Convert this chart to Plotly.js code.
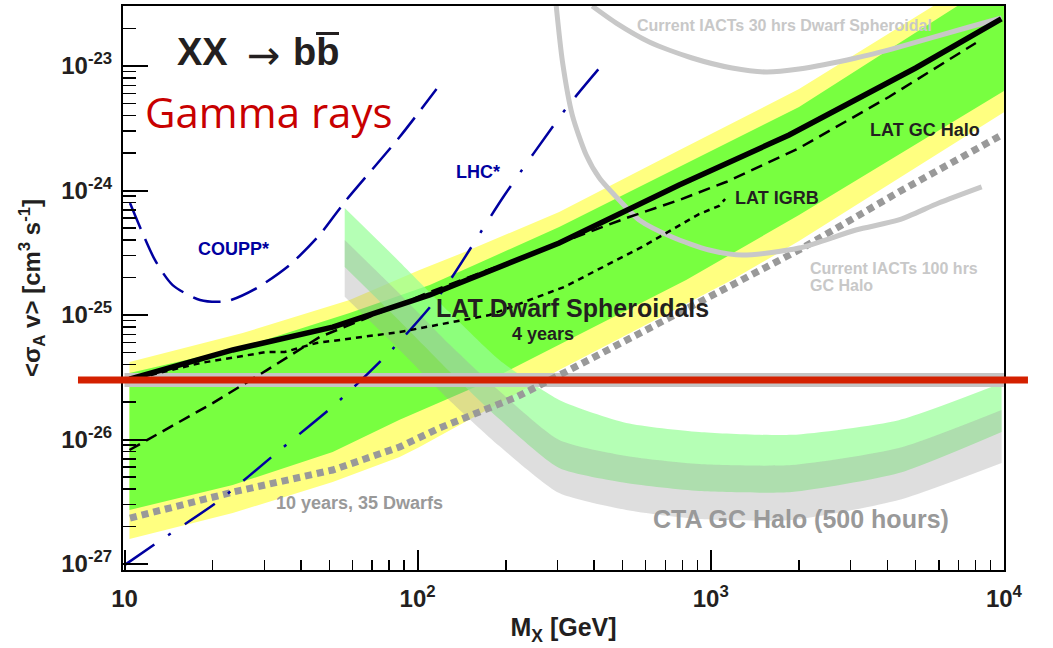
<!DOCTYPE html>
<html><head><meta charset="utf-8">
<script src="https://cdn.plot.ly/plotly-3.0.1.min.js"></script>
<style>html,body{margin:0;padding:0;background:#fff;}#chart{width:1053px;height:648px;}</style>
</head><body><div id="chart"></div>
<script>
// ---------------- data ----------------
// Fermi-LAT 10 yr / 35 dwarfs expected sensitivity bands
const yellowUpperMass = [10.4, 25.3, 58.6, 101.5, 142, 304, 780, 2000, 5670, 10000];
const yellowUpper     = [4.19e-26, 7.16e-26, 1.32e-25, 2.30e-25, 3.15e-25, 6.71e-25, 2.11e-24, 6.53e-24, 2.98e-23, 7.0e-23];
const yellowLowerMass = [10.4, 23.4, 51.3, 86.8, 101.5, 304, 1180, 2000, 10000];
const yellowLower     = [1.59e-27, 2.57e-27, 4.56e-27, 7.23e-27, 8.71e-27, 3.61e-26, 1.91e-25, 3.93e-25, 4.25e-24];
const greenUpperMass  = [10.4, 25.3, 58.6, 110, 304, 780, 2000, 6850, 10000];
const greenUpper      = [3.42e-26, 5.53e-26, 1.04e-25, 1.74e-25, 5.09e-25, 1.55e-24, 4.69e-24, 2.98e-23, 5.2e-23];
const greenLowerMass  = [10.4, 23.4, 51.3, 86.8, 163, 304, 824, 2000, 10000];
const greenLower      = [2.72e-27, 4.32e-27, 7.94e-27, 1.44e-26, 2.74e-26, 5.74e-26, 1.91e-25, 6.35e-25, 6.3e-24];

// CTA GC halo (500 hours) bands
const ctaMass        = [56.4, 86.8, 128, 190, 304, 515, 912, 1890, 4380, 9820];
const ctaGreenUpper  = [7.23e-25, 2.67e-25, 1.06e-25, 4.35e-26, 2.08e-26, 1.36e-26, 1.15e-26, 1.09e-26, 1.43e-26, 2.84e-26];
const ctaGreenLower  = [2.43e-25, 8.95e-26, 3.55e-26, 1.46e-26, 5.90e-27, 4.47e-27, 3.86e-27, 3.79e-27, 5.38e-27, 1.15e-26];
const ctaGrayUpper   = [4.00e-25, 1.48e-25, 5.85e-26, 2.45e-26, 9.91e-27, 7.37e-27, 6.35e-27, 6.24e-27, 8.55e-27, 1.73e-26];
const ctaGrayLower   = [1.40e-25, 5.24e-26, 2.08e-26, 8.87e-27, 3.72e-27, 2.72e-27, 2.30e-27, 2.26e-27, 3.27e-27, 6.48e-27];

// thermal relic cross section
const relicMass  = [10, 10000];
const relicValue = 3e-26;

// 10 years, 35 dwarfs projection
const projMass = [10.44, 23.4, 51.3, 86.8, 119, 217, 329, 912, 2000, 4378, 9822];
const proj     = [2.34e-27, 3.78e-27, 5.69e-27, 8.71e-27, 1.24e-26, 2.19e-26, 3.61e-26, 1.27e-25, 3.33e-25, 9.73e-25, 2.79e-24];

// current IACTs
const iactDwarfMass = [394, 476, 617, 864, 1182, 1543, 2000, 3126, 4378, 7407, 9822];
const iactDwarf     = [3.03e-23, 2.21e-23, 1.56e-23, 1.16e-23, 9.64e-24, 8.95e-24, 9.46e-24, 1.16e-23, 1.42e-23, 2.02e-23, 2.43e-23];
const iactGCMass = [297, 312, 337, 376, 417, 487, 570, 738, 987, 1278, 2000, 3126, 4378, 5993, 8395];
const iactGC     = [3.03e-23, 1.08e-23, 4.04e-24, 1.93e-24, 1.26e-24, 8.39e-25, 5.80e-25, 4.23e-25, 3.33e-25, 3.03e-25, 3.45e-25, 4.82e-25, 5.80e-25, 7.94e-25, 1.07e-24];

// COUPP* and LHC*
const couppMass = [10.44, 12.7, 14.6, 18.1, 22.3, 28.3, 36.6, 46.3, 56.4, 86.8, 116];
const coupp     = [7.94e-25, 2.77e-25, 1.74e-25, 1.32e-25, 1.29e-25, 1.65e-25, 2.52e-25, 4.40e-25, 8.09e-25, 2.69e-24, 6.53e-24];
const lhcMass = [10, 13.0, 20.7, 33.9, 53.4, 82.1, 119, 198, 324, 420];
const lhc     = [9.8e-28, 1.50e-27, 3.15e-27, 8.24e-27, 2.0e-26, 5.33e-26, 1.45e-25, 9.2e-25, 4.69e-24, 9.82e-24];

// Fermi-LAT limits
const gcHaloMass = [10.4, 20.0, 30.6, 46.3, 67, 110, 206, 356, 515, 780, 1127, 2000, 4050, 8020];
const gcHalo     = [8.24e-27, 1.96e-26, 3.61e-26, 6.65e-26, 9.46e-26, 1.53e-25, 2.67e-25, 4.32e-25, 6.01e-25, 8.39e-25, 1.17e-24, 2.19e-24, 5.64e-24, 1.53e-23];
const igrbMass = [10.4, 18.1, 30.6, 35.2, 45.2, 86.8, 176, 316, 583, 912, 1067, 1119];
const igrb     = [3.0e-26, 4.11e-26, 5.05e-26, 5.05e-26, 5.96e-26, 7.3e-26, 1.0e-25, 1.68e-25, 3.52e-25, 6.47e-25, 7.52e-25, 8.55e-25];
const dwarfMass = [10.4, 23.4, 51.3, 110, 304, 780, 1850, 5000, 9800];
const dwarf     = [3.06e-26, 5.24e-26, 8.0e-26, 1.45e-25, 3.79e-25, 1.107e-24, 2.79e-24, 9.64e-24, 2.39e-23];

// axis ticks
const xTickVals = [10, 100, 1000, 10000];
const xTickText = ['10', '10<sup>2</sup>', '10<sup>3</sup>', '10<sup>4</sup>'];
const yTickVals = [1e-27, 1e-26, 1e-25, 1e-24, 1e-23];
const yTickText = ['10<sup>-27</sup>', '10<sup>-26</sup>', '10<sup>-25</sup>', '10<sup>-24</sup>', '10<sup>-23</sup>'];

// ---------------- drawing ----------------
const FONT = 'Liberation Sans, Arial, Helvetica, sans-serif';
const DARK = '#231f20';

function band(xu, yu, xl, yl, color) {
  return {
    x: xu.concat(xl.slice().reverse()),
    y: yu.concat(yl.slice().reverse()),
    type: 'scatter', mode: 'lines', fill: 'toself', fillcolor: color,
    line: {width: 0}, hoverinfo: 'skip', showlegend: false
  };
}
// smooth band: lower edge (no fill) followed by upper edge filled down to it
function smoothBand(x, yu, yl, color) {
  return [
    {x: x, y: yl, type: 'scatter', mode: 'lines', line: {width: 0, shape: 'spline', smoothing: 0.6},
     hoverinfo: 'skip', showlegend: false},
    {x: x, y: yu, type: 'scatter', mode: 'lines', fill: 'tonexty', fillcolor: color,
     line: {width: 0, shape: 'spline', smoothing: 0.6}, hoverinfo: 'skip', showlegend: false}
  ];
}
function line(x, y, color, width, dash, shape) {
  return {x: x, y: y, type: 'scatter', mode: 'lines',
    line: {color: color, width: width, dash: dash || 'solid', shape: shape || 'linear', smoothing: 0.7},
    hoverinfo: 'skip', showlegend: false};
}

const traces = [
  band(yellowUpperMass, yellowUpper, yellowLowerMass, yellowLower, 'rgb(255,255,128)'),
  band(greenUpperMass, greenUpper, greenLowerMass, greenLower, 'rgb(120,255,64)'),
  ...smoothBand(ctaMass, ctaGreenUpper, ctaGreenLower, 'rgba(150,255,150,0.7)'),
  ...smoothBand(ctaMass, ctaGrayUpper, ctaGrayLower, 'rgba(160,160,160,0.35)'),
  line(relicMass, relicMass.map(() => relicValue), '#c4c4c4', 14),
  line(projMass, proj, '#999999', 7, '7px,5px'),
  line(iactDwarfMass, iactDwarf, '#c8c8c8', 5, 'solid', 'spline'),
  line(iactGCMass, iactGC, '#c8c8c8', 5, 'solid', 'spline'),
  line(couppMass, coupp, '#0000a0', 2.5, '28px,11px', 'spline'),
  line(lhcMass, lhc, '#0000a0', 2.5, '36px,17px,3px,17px', 'spline'),
  line(gcHaloMass, gcHalo, '#000000', 2.5, '12px,7px'),
  line(igrbMass, igrb, '#000000', 2.5, '6px,5px'),
  line(dwarfMass, dwarf, '#000000', 5.5)
];

function ann(text, x, y, size, color, opts) {
  return Object.assign({text: text, x: x, y: y, xref: 'paper', yref: 'paper',
    xanchor: 'center', yanchor: 'middle', showarrow: false,
    font: {family: FONT, size: size, color: color, weight: 'bold'}}, opts || {});
}

const annotations = [
  ann('XX', 0.0902, 0.9176, 38, DARK),
  ann('→', 0.1606, 0.9140, 40, DARK, {font: {family: 'DejaVu Sans, sans-serif', size: 40, color: DARK, weight: 'normal'}}),
  ann('bb', 0.2196, 0.9176, 38, DARK),
  ann('Gamma rays', 0.1646, 0.8138, 42, '#c80000', {font: {family: 'Open Sans, sans-serif', size: 42, color: '#c80000', weight: 'normal'}}),
  ann('COUPP*', 0.1254, 0.5683, 18, '#0000a0'),
  ann('LHC*', 0.4035, 0.7062, 18, '#0000a0'),
  ann('Current IACTs 30 hrs Dwarf Spheroidal', 0.7503, 0.9649, 16, '#c8c8c8'),
  ann('LAT GC Halo', 0.9103, 0.7810, 18, DARK),
  ann('LAT IGRB', 0.7420, 0.6590, 18, DARK),
  ann('Current IACTs 100 hrs', 0.7775, 0.5342, 16, '#c8c8c8', {xanchor: 'left'}),
  ann('GC Halo', 0.7775, 0.5048, 16, '#c8c8c8', {xanchor: 'left'}),
  ann('LAT Dwarf Spheroidals', 0.5102, 0.4640, 25, DARK),
  ann('4 years', 0.4771, 0.4184, 18, DARK),
  ann('10 years, 35 Dwarfs', 0.2690, 0.1193, 18, '#999999'),
  ann('CTA GC Halo (500 hours)', 0.7699, 0.0908, 25, '#999999')
];

const shapes = [
  // overline of the anti-b
  {type: 'line', xref: 'paper', yref: 'paper', x0: 0.2191, x1: 0.2452, y0: 0.9512, y1: 0.9512,
   line: {color: DARK, width: 3}},
  // red highlight at the thermal relic cross section
  {type: 'line', xref: 'paper', yref: 'y', x0: -0.0511, x1: 1.0272, y0: relicValue, y1: relicValue,
   line: {color: '#d42000', width: 7}, layer: 'above'}
];

const axisCommon = {
  type: 'log', showline: true, mirror: true, linecolor: '#000', linewidth: 2,
  ticks: 'inside', tickcolor: '#000', tickwidth: 2, showgrid: false, zeroline: false,
  tickmode: 'array',
  tickfont: {family: FONT, size: 24, color: DARK, weight: 'bold'}
};

const layout = {
  width: 1053, height: 648,
  margin: {l: 123, r: 49, t: 6, b: 78},
  paper_bgcolor: '#fff', plot_bgcolor: '#fff',
  showlegend: false,
  xaxis: Object.assign({}, axisCommon, {
    range: [0.9949, 4.0003], tickvals: xTickVals, ticktext: xTickText, ticklen: 20,
    ticklabelstandoff: 6,
    minor: {dtick: 'D1', ticks: 'inside', ticklen: 10, tickwidth: 1.5, tickcolor: '#000', showgrid: false},
    title: {text: 'M<sub>X</sub> [GeV]', font: {family: FONT, size: 25, color: DARK, weight: 'bold'}, standoff: 8}
  }),
  yaxis: Object.assign({}, axisCommon, {
    range: [-27.048, -22.518], tickvals: yTickVals, ticktext: yTickText, ticklen: 25,
    ticklabelstandoff: 4,
    minor: {dtick: 'D1', ticks: 'inside', ticklen: 13, tickwidth: 1.5, tickcolor: '#000', showgrid: false},
    title: {text: '&lt;σ<sub>A</sub> v&gt; [cm<sup>3</sup> s<sup>-1</sup>]', font: {family: FONT, size: 24, color: DARK, weight: 'bold'}, standoff: 14}
  }),
  annotations: annotations,
  shapes: shapes
};

Plotly.newPlot('chart', traces, layout, {displayModeBar: false, staticPlot: true});
</script>
</body></html>
